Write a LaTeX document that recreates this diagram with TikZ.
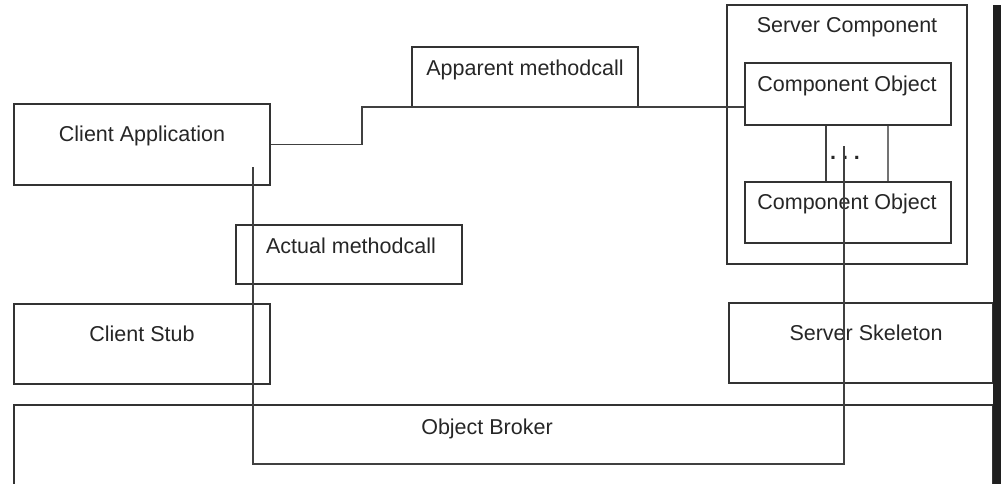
\documentclass[tikz,border=0pt]{standalone}
\usepackage{fontspec}
\setmainfont{Liberation Sans}
\begin{document}
\begin{tikzpicture}[x=1pt,y=-1pt,
  box/.style={draw=black!80, line width=1.3pt, rectangle, inner sep=0pt, fill=none},
  lbl/.style={anchor=base, inner sep=0pt, text=black!85, font=\fontsize{21.5}{25}\selectfont},
  wire/.style={draw=black!75, line width=1.2pt}]
\useasboundingbox (0,0) rectangle (1001,484);
\clip (0,0) rectangle (1001,484);
% boxes
\node[box, minimum width=256pt, minimum height=81pt] (ca) at (142,144.5) {};
\node[box, minimum width=226pt, minimum height=60pt] (am) at (525,77) {};
\node[box, minimum width=226pt, minimum height=59pt] (act) at (349,254.5) {};
\node[box, minimum width=256pt, minimum height=80pt] (cs) at (142,344) {};
\node[box, minimum width=240pt, minimum height=259pt] (sc) at (847,134.5) {};
\node[box, minimum width=206pt, minimum height=62pt] (co1) at (848,94) {};
\node[box, minimum width=206pt, minimum height=61pt] (co2) at (848,212.5) {};
\node[box, minimum width=264pt, minimum height=80pt] (ss) at (861,343) {};
\node[box, minimum width=979pt, minimum height=95pt] (ob) at (503.5,452.5) {};
% black bar at right
\fill[black!88] (993,5) rectangle (1001,484);
% labels
\node[lbl] (tca) at ([yshift=-38pt]ca.north) {Client Application};
\node[lbl] (tam) at ([yshift=-29pt]am.north) {Apparent methodcall};
\node[lbl] (tact) at ([xshift=2pt,yshift=-29pt]act.north) {Actual methodcall};
\node[lbl] (tcs) at ([yshift=-38pt]cs.north) {Client Stub};
\node[lbl] (tss) at ([xshift=5pt,yshift=-38pt]ss.north) {Server Skeleton};
\node[lbl] (tob) at (487,434) {Object Broker};
\node[lbl] (tsc) at ([yshift=-28pt]sc.north) {Server Component};
\node[lbl] (tco1) at ([xshift=-1pt,yshift=-29pt]co1.north) {Component Object};
\node[lbl] (tco2) at ([xshift=-1pt,yshift=-28pt]co2.north) {Component Object};
\node[lbl, font=\fontsize{21.5}{25}\selectfont\bfseries] (dots) at (845,159) {.\ .\ .};
% connectors
\coordinate (k1) at (362,107);
\draw[wire] (ca.east) -| (k1) -- (co1.west |- k1);
\coordinate (s1) at (253,167);
\coordinate (s2) at (253,464);
\coordinate (s3) at (844,464);
\coordinate (s4) at (844,146);
\draw[wire] (s1) -- (s2) -- (s3) -- (s4);
\draw[wire] ([xshift=-22pt]co1.south) -- ([xshift=-22pt]co2.north);
\draw[wire, draw=black!55] ([xshift=40pt]co1.south) -- ([xshift=40pt]co2.north);
\end{tikzpicture}
\end{document}
